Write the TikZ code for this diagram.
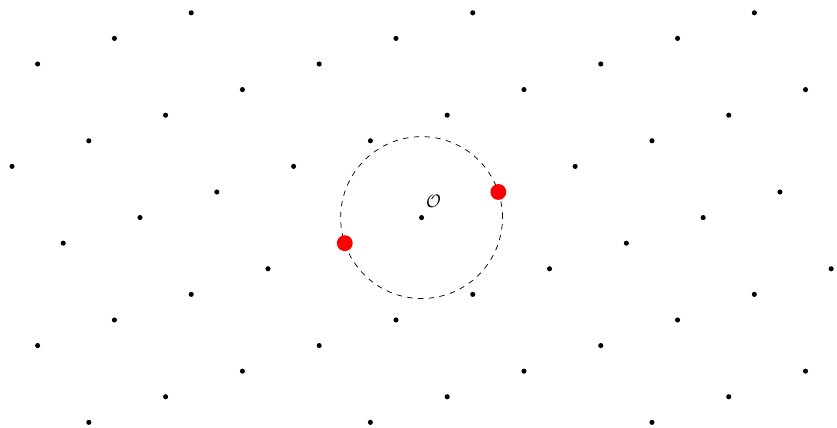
\documentclass[tikz,border=0pt]{standalone}
\begin{document}
\begin{tikzpicture}[x=0.5cm,y=0.5cm,
  latticept/.style={fill=black},
  redpt/.style={fill=red}]
\useasboundingbox (-16.47,-8.22) rectangle (16.23,8.50);
\foreach \x in {-16,...,16} {
  \foreach \y in {-8,...,8} {
    \pgfmathtruncatemacro\r{mod(\x-3*\y+110,11)}
    \ifnum\r=0 \fill[latticept] (\x,\y) circle (0.1); \fi
  }
}
\coordinate (O) at (0,0);
\coordinate (P) at (3,1);
\coordinate (Q) at (-3,-1);
\draw[dashed] (O) circle ({sqrt(10)});
\fill[redpt] (P) circle (0.31);
\fill[redpt] (Q) circle (0.31);
\node (lbl) at (0.47,0.64) {$\mathcal{O}$};
\end{tikzpicture}
\end{document}
